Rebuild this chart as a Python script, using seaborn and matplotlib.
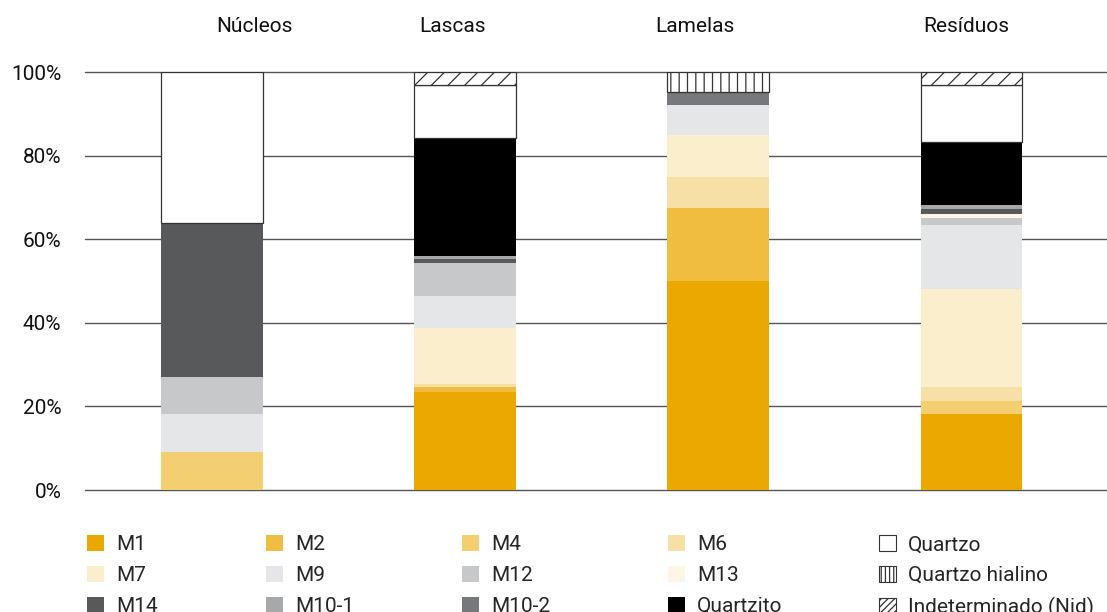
import pandas as pd
import matplotlib
matplotlib.use("Agg")
import matplotlib.pyplot as plt
import seaborn as sns
from matplotlib.patches import Patch

# categories (bars) and the material shares (%) of each, bottom to top
categories = ["Núcleos", "Lascas", "Lamelas", "Resíduos"]
materials = ["M1", "M2", "M4", "M6", "M7", "M9", "M12", "M13", "M14",
             "M10-1", "M10-2", "Quartzito", "Quartzo", "Quartzo hialino",
             "Indeterminado (Nid)"]

m1 = [0, 23.5, 50.1, 18.2]
m2 = [0, 1.1, 17.4, 0]
m4 = [9.2, 0, 0, 3.1]
m6 = [0, 0.8, 7.4, 3.3]
m7 = [0, 13.4, 10.0, 23.5]
m9 = [9.0, 7.6, 7.2, 15.3]
m12 = [8.8, 7.8, 0, 1.7]
m13 = [0, 0, 0, 1.0]
m14 = [36.8, 1.0, 0, 1.1]
m10_1 = [0, 0.7, 0, 1.0]
m10_2 = [0, 0, 3.0, 0]
quartzito = [0, 28.3, 0, 15.1]
quartzo = [36.2, 12.8, 0, 13.6]
quartzo_hialino = [0, 0, 4.9, 0]
indeterminado = [0, 3.0, 0, 3.1]

series = [m1, m2, m4, m6, m7, m9, m12, m13, m14, m10_1, m10_2,
          quartzito, quartzo, quartzo_hialino, indeterminado]

colors = {
    "M1": "#eaa800", "M2": "#f0bd40", "M4": "#f3cf72", "M6": "#f7e0a6",
    "M7": "#faeecd", "M9": "#e5e6e7", "M12": "#c7c8c9", "M13": "#fdf6e6",
    "M14": "#58595b", "M10-1": "#a7a8aa", "M10-2": "#77787b",
    "Quartzito": "#000000", "Quartzo": "#ffffff",
    "Quartzo hialino": "#ffffff", "Indeterminado (Nid)": "#ffffff",
}
hatches = {"Quartzo hialino": "||", "Indeterminado (Nid)": "//"}
outlined = ["Quartzo", "Quartzo hialino", "Indeterminado (Nid)"]

rows = []
for mat, vals in zip(materials, series):
    for cat, v in zip(categories, vals):
        rows.append({"categoria": cat, "material": mat, "pct": v})
df = pd.DataFrame(rows)
df["bottom"] = df.groupby("categoria")["pct"].cumsum() - df["pct"]

sns.set_style("white")
plt.rcParams["font.family"] = ["Roboto", "DejaVu Sans"]
plt.rcParams["hatch.color"] = "black"
plt.rcParams["hatch.linewidth"] = 0.9

fig = plt.figure(figsize=(11.07, 6.12), dpi=100)
ax = fig.add_axes([85 / 1107, 1 - 490 / 612, 1 - 85 / 1107, 418 / 612])

for mat in materials:
    sub = df[(df["material"] == mat) & (df["pct"] > 0)]
    if sub.empty:
        continue
    kw = dict(linewidth=0)
    if mat in outlined:
        kw = dict(edgecolor="#333333", linewidth=0.9)
    if mat in hatches:
        kw["hatch"] = hatches[mat]
    sns.barplot(data=sub, x="categoria", y="pct", order=categories,
                color=colors[mat], facecolor=colors[mat], width=0.4,
                errorbar=None, bottom=sub["bottom"].to_numpy(),
                saturation=1, ax=ax, **kw)

ax.set_xlim(-0.502, 3.537)
ax.set_ylim(0, 100)
ax.set_yticks([0, 20, 40, 60, 80, 100])
ax.set_yticklabels([f"{v}%" for v in [0, 20, 40, 60, 80, 100]], fontsize=15)
ax.tick_params(axis="y", length=0, pad=17, colors="#111111")
ax.set_xticks([])
ax.set_xlabel("")
ax.set_ylabel("")
ax.yaxis.grid(True, color="#555555", linewidth=1.0)
for gl in ax.get_ygridlines():
    gl.set_clip_on(False)
ax.set_axisbelow(True)
for s in ax.spines.values():
    s.set_visible(False)

# category titles above the plot
label_offsets = [0.166, -0.051, -0.091, -0.02]
for i, (cat, off) in enumerate(zip(categories, label_offsets)):
    ax.text(i + off, 1.0957, cat, transform=ax.get_xaxis_transform(),
            ha="center", va="baseline", fontsize=15, color="#111111")

# legend, filled row by row in five columns
legend_hatch = {"Quartzo hialino": "||||", "Indeterminado (Nid)": "/////"}
handles = {}
for mat in materials:
    if mat in outlined:
        handles[mat] = Patch(facecolor="white", edgecolor="#333333",
                             linewidth=0.8, hatch=legend_hatch.get(mat))
    else:
        handles[mat] = Patch(facecolor=colors[mat], edgecolor="none")

legend_cols = [["M1", "M7", "M14"], ["M2", "M9", "M10-1"],
               ["M4", "M12", "M10-2"], ["M6", "M13", "Quartzito"],
               ["Quartzo", "Quartzo hialino", "Indeterminado (Nid)"]]
col_x = [87, 266, 462, 668, 879]
for cols, x in zip(legend_cols, col_x):
    fig.legend([handles[m] for m in cols], cols, loc="upper left",
               bbox_to_anchor=(x / 1107, 1 - 535 / 612), frameon=False,
               fontsize=15, borderpad=0, borderaxespad=0,
               handlelength=0.82, handleheight=0.82, handletextpad=0.58,
               labelspacing=0.55)

fig.savefig("out.png", dpi=100)
